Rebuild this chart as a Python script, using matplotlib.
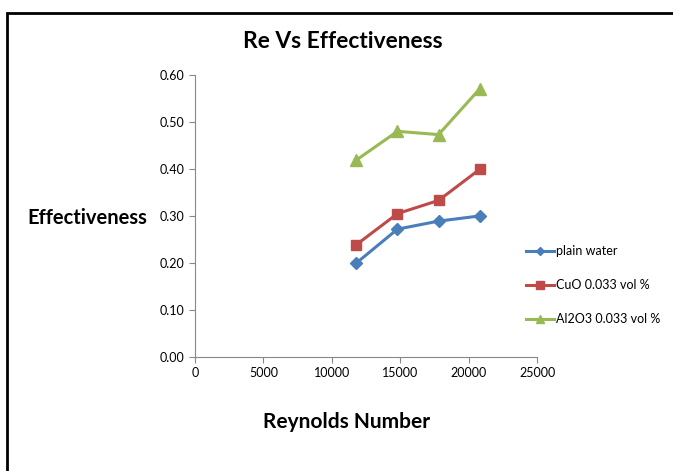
import matplotlib.pyplot as plt
from matplotlib.patches import Rectangle

plt.rcParams['font.family'] = ['Lato', 'DejaVu Sans']

reynolds = [11800, 14800, 17800, 20800]
plain_water = [0.20, 0.272, 0.289, 0.300]
cuo = [0.239, 0.305, 0.333, 0.399]
al2o3 = [0.419, 0.480, 0.473, 0.570]

fig = plt.figure(figsize=(6.73, 4.71), dpi=100)
ax = fig.add_axes([0.2897, 0.242, 0.5083, 0.599])

ax.plot(reynolds, plain_water, color='#4A7EBB', marker='D', markersize=6, lw=2.2, label='plain water')
ax.plot(reynolds, cuo, color='#BE4B48', marker='s', markersize=7.5, lw=2.2, label='CuO 0.033 vol %')
ax.plot(reynolds, al2o3, color='#98B954', marker='^', markersize=8.5, lw=2.2, label='Al2O3 0.033 vol %')

ax.set_xlim(0, 25000)
ax.set_ylim(0, 0.6)
ax.set_xticks(range(0, 25001, 5000))
ax.set_yticks([i / 10 for i in range(7)])
ax.set_yticklabels(['%.2f' % (i / 10) for i in range(7)])
for s in ['top', 'right']:
    ax.spines[s].set_visible(False)
for s in ['left', 'bottom']:
    ax.spines[s].set_color('#888888')
ax.tick_params(colors='#888888', labelcolor='black', labelsize=9, length=4)

fig.text(0.510, 0.911, 'Re Vs Effectiveness', ha='center', va='center', fontsize=16.4, fontweight='bold')
fig.text(0.129, 0.537, 'Effectiveness', ha='center', va='center', fontsize=14.5, fontweight='bold')
fig.text(0.515, 0.105, 'Reynolds Number', ha='center', va='center', fontsize=15, fontweight='bold')

fig.legend(loc='upper left', bbox_to_anchor=(0.765, 0.503), frameon=False, fontsize=9,
           labelspacing=1.75, handlelength=2.2, handletextpad=0.2, markerscale=0.7)

fig.patches.append(Rectangle((7 / 673, -0.1), 2, 1.1 - 13 / 471, transform=fig.transFigure,
                             fill=False, edgecolor='black', lw=2))

fig.savefig('out.png', dpi=100)
